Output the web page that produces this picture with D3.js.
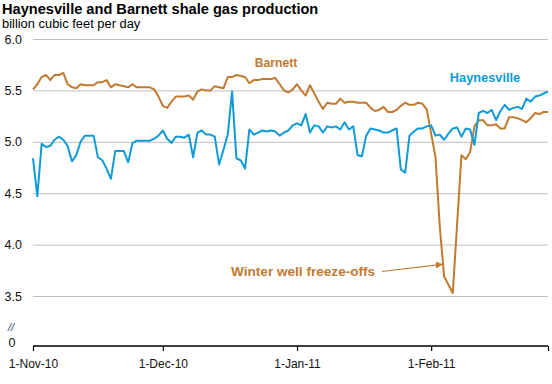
<!DOCTYPE html>
<html>
<head>
<meta charset="utf-8">
<script src="https://cdn.jsdelivr.net/npm/d3@7"></script>
<style>
  html, body { margin: 0; padding: 0; background: #fff; }
  svg { display: block; font-family: Arial, "Liberation Sans", sans-serif; }
</style>
</head>
<body>
<svg id="chart" width="552" height="384"></svg>
<script>
// ---- data (daily, 1-Nov-2010 .. 28-Feb-2011) ----
const startDate = "2010-11-01";
const endDate = "2011-02-28";
const seriesNames = ["Barnett", "Haynesville"];
const barnett = [
  5.51, 5.56, 5.63, 5.65, 5.60, 5.65, 5.65, 5.67, 5.56, 5.53,
  5.52, 5.56, 5.55, 5.55, 5.55, 5.58, 5.58, 5.60, 5.53, 5.56,
  5.55, 5.54, 5.53, 5.56, 5.53, 5.53, 5.53, 5.53, 5.51, 5.44,
  5.35, 5.33, 5.39, 5.44, 5.44, 5.44, 5.45, 5.41, 5.49, 5.51,
  5.50, 5.50, 5.54, 5.53, 5.52, 5.63, 5.63, 5.65, 5.64, 5.63,
  5.57, 5.60, 5.60, 5.61, 5.61, 5.61, 5.62, 5.56, 5.50, 5.48,
  5.51, 5.56, 5.50, 5.45, 5.55, 5.47, 5.39, 5.32, 5.38, 5.37,
  5.37, 5.42, 5.38, 5.39, 5.39, 5.38, 5.38, 5.38, 5.33, 5.30,
  5.31, 5.34, 5.29, 5.29, 5.31, 5.35, 5.38, 5.36, 5.36, 5.38,
  5.37, 5.31, 5.08, 4.85, 4.17, 3.69, 3.61, 3.53, 4.20, 4.87,
  4.83, 4.90, 5.15, 5.21, 5.21, 5.16, 5.16, 5.17, 5.13, 5.13,
  5.24, 5.24, 5.23, 5.21, 5.19, 5.23, 5.28, 5.27, 5.29, 5.29
];
const haynesville = [
  4.84, 4.47, 4.98, 4.95, 4.96, 5.02, 5.05, 5.02, 4.96, 4.81,
  4.87, 5.00, 5.06, 5.06, 5.06, 4.85, 4.82, 4.74, 4.64, 4.91,
  4.91, 4.91, 4.80, 4.99, 5.01, 5.01, 5.01, 5.01, 5.03, 5.06,
  5.11, 5.03, 4.99, 5.05, 5.05, 5.04, 5.07, 4.85, 5.09, 5.11,
  5.07, 5.07, 5.05, 4.78, 4.92, 5.07, 5.49, 4.84, 4.82, 4.74,
  5.12, 5.07, 5.09, 5.11, 5.10, 5.11, 5.10, 5.06, 5.09, 5.11,
  5.16, 5.18, 5.16, 5.27, 5.09, 5.16, 5.15, 5.09, 5.15, 5.14,
  5.15, 5.12, 5.19, 5.12, 5.15, 4.87, 4.86, 5.06, 5.13, 5.12,
  5.11, 5.09, 5.09, 5.11, 5.13, 4.73, 4.70, 5.06, 5.10, 5.13,
  5.13, 5.15, 5.16, 5.06, 5.07, 5.02, 5.08, 5.13, 5.14, 5.05,
  5.13, 5.12, 4.97, 5.28, 5.30, 5.28, 5.31, 5.21, 5.30, 5.36,
  5.31, 5.33, 5.34, 5.32, 5.42, 5.39, 5.44, 5.45, 5.47, 5.49
];
const yTicks = [3.5, 4.0, 4.5, 5.0, 5.5, 6.0];
const xTickDates = ["2010-11-01", "2010-12-01", "2011-01-01", "2011-02-01", "2011-02-28"];
const titleText = "Haynesville and Barnett shale gas production";
const unitText = "billion cubic feet per day";
const annotationText = "Winter well freeze-offs";
const annotationDate = "2011-02-04";
const annotationValue = 3.73;

// ---- setup ----
const parse = d3.timeParse("%Y-%m-%d");
const dates = d3.timeDay.range(parse(startDate), d3.timeDay.offset(parse(endDate), 1));
const colors = { Barnett: "#c27a30", Haynesville: "#0e9bd8" };

const svg = d3.select("#chart");
const x = d3.scaleTime().domain([parse(startDate), parse(endDate)]).range([33, 548]);
const y = d3.scaleLinear().domain([3.5, 6.0]).range([296, 39]);
const axisY = 346;

// title
svg.append("text").attr("x", 2).attr("y", 13.5)
  .attr("font-size", 14.6).attr("font-weight", "bold").attr("fill", "#000")
  .text(titleText);
svg.append("text").attr("x", 2).attr("y", 27.5)
  .attr("font-size", 12.9).attr("fill", "#000")
  .text(unitText);

// gridlines + y labels
const yAxis = d3.axisLeft(y).tickValues(yTicks).tickSize(-(548 - 33)).tickPadding(11)
  .tickFormat(d3.format(".1f"));
const gy = svg.append("g").attr("transform", "translate(33,0)").call(yAxis);
gy.select(".domain").remove();
gy.selectAll(".tick line").attr("stroke", "#bfbfbf").attr("stroke-width", 1);
gy.selectAll(".tick text").attr("font-size", 12.5).attr("fill", "#111")
  .attr("font-family", "Arial, 'Liberation Sans', sans-serif");

// axis break and zero label
svg.append("text").attr("x", 11).attr("y", 331).attr("text-anchor", "middle")
  .attr("font-size", 11).attr("font-style", "italic").attr("fill", "#1f3a6b").text("//");
svg.append("text").attr("x", 15.5).attr("y", 347).attr("text-anchor", "end")
  .attr("font-size", 12.5).attr("fill", "#111").text("0");

// x axis
const fmt = d3.timeFormat("%-d-%b-%y");
const xAxis = d3.axisBottom(x).tickValues(xTickDates.map(parse)).tickSize(5).tickSizeOuter(0).tickPadding(8)
  .tickFormat((d, i) => i === xTickDates.length - 1 ? "" : fmt(d));
const gx = svg.append("g").attr("transform", `translate(0,${axisY})`).call(xAxis);
gx.select(".domain").attr("stroke", "#000").attr("stroke-width", 1.5).attr("d", `M${x.range()[0]},0H${x.range()[1]}`);
gx.selectAll(".tick line").attr("stroke", "#000").attr("stroke-width", 1.2);
gx.selectAll(".tick text").attr("font-size", 12).attr("fill", "#111")
  .attr("font-family", "Arial, 'Liberation Sans', sans-serif");

// lines
const line = d3.line().x((d, i) => x(dates[i])).y(d => y(d)).curve(d3.curveLinear);
svg.append("path").datum(barnett).attr("d", line)
  .attr("fill", "none").attr("stroke", colors.Barnett).attr("stroke-width", 2).attr("stroke-linejoin", "round");
svg.append("path").datum(haynesville).attr("d", line)
  .attr("fill", "none").attr("stroke", colors.Haynesville).attr("stroke-width", 2).attr("stroke-linejoin", "round");

// series labels
svg.append("text").attr("x", 276).attr("y", 67).attr("text-anchor", "middle")
  .attr("font-size", 12.2).attr("font-weight", "bold").attr("fill", colors.Barnett).text(seriesNames[0]);
svg.append("text").attr("x", 485).attr("y", 82).attr("text-anchor", "middle")
  .attr("font-size", 12.8).attr("font-weight", "bold").attr("fill", colors.Haynesville).text(seriesNames[1]);

// annotation
svg.append("defs").append("marker").attr("id", "arrow").attr("viewBox", "0 0 10 10")
  .attr("refX", 9).attr("refY", 5).attr("markerWidth", 7).attr("markerHeight", 7)
  .attr("markerUnits", "userSpaceOnUse").attr("orient", "auto")
  .append("path").attr("d", "M0,0L10,5L0,10z").attr("fill", colors.Barnett);
svg.append("text").attr("x", 231).attr("y", 275.5)
  .attr("font-size", 13.6).attr("font-weight", "bold").attr("fill", colors.Barnett).text(annotationText);
svg.append("line").attr("x1", 382).attr("y1", 271.5)
  .attr("x2", x(parse(annotationDate)) - 2).attr("y2", y(annotationValue) - 8)
  .attr("stroke", colors.Barnett).attr("stroke-width", 1.2).attr("marker-end", "url(#arrow)");
</script>
</body>
</html>
